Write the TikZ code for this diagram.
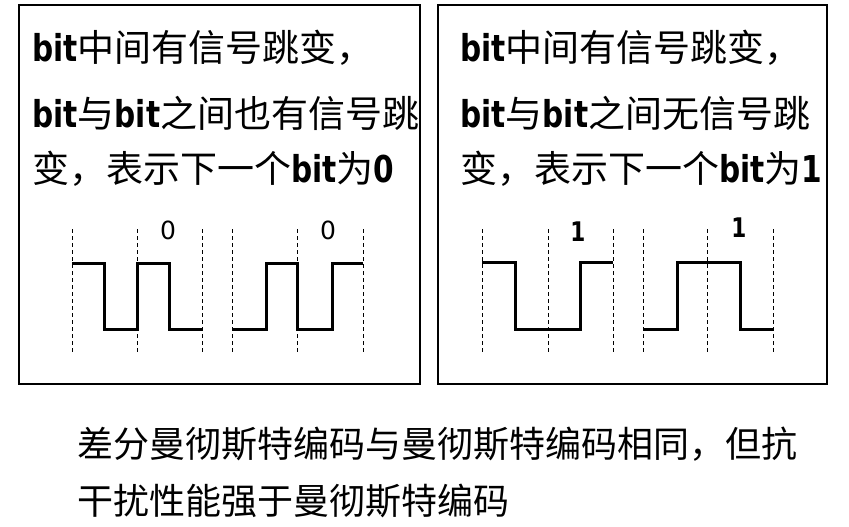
\documentclass[tikz,border=0pt]{standalone}
\usepackage{fontspec}
\newfontfamily\cjk{Noto Sans CJK SC}
\newfontfamily\latb{DejaVu Sans}[FakeStretch=0.8]
\newfontfamily\dig{DejaVu Sans}
\newcommand\bt[1]{{\latb\bfseries #1}}
\begin{document}
\begin{tikzpicture}[x=1pt,y=-1pt,
  panel/.style={draw, line width=1.1pt},
  wave/.style={line width=3pt, line join=miter},
  grid/.style={line width=0.8pt, dash pattern=on 4pt off 3pt},
  txt/.style={anchor=base west, inner sep=0pt, font=\cjk\fontsize{37}{40}\selectfont},
  bottxt/.style={anchor=base west, inner sep=0pt, font=\cjk\fontsize{36}{40}\selectfont},
  bitlbl/.style={inner sep=0pt, font=\dig\fontsize{25}{28}\selectfont},
  onelbl/.style={inner sep=0pt, font=\latb\bfseries\fontsize{27}{29}\selectfont}]
\useasboundingbox (0,0) rectangle (849,527);
% panels
\draw[panel] (19,5) rectangle (420,384);
\draw[panel] (438,5) rectangle (827,384);
% left panel text
\node[txt] (l1) at (32,62) {\bt{bit}中间有信号跳变，};
\node[txt] (l2) at (32,127) {\bt{bit}与\bt{bit}之间也有信号跳};
\node[txt] (l3) at (32,182) {变，表示下一个\bt{bit}为\bt{0}};
% right panel text
\node[txt] (r1) at (460,62) {\bt{bit}中间有信号跳变，};
\node[txt] (r2) at (460,127) {\bt{bit}与\bt{bit}之间无信号跳};
\node[txt] (r3) at (460,182) {变，表示下一个\bt{bit}为\bt{1}};
% dashed bit boundaries
\foreach \x in {72,137,202,232,297,363,482,548,613,643,707,773}
  \draw[grid] (\x,229) -- (\x,353);
% waveforms
\draw[wave] (72,263) -- (104,263) -- (104,329) -- (137,329) -- (137,263) -- (169,263) -- (169,329) -- (202,329);
\draw[wave] (232,329) -- (266,329) -- (266,263) -- (297,263) -- (297,329) -- (332,329) -- (332,263) -- (363,263);
\draw[wave] (482,262) -- (515,262) -- (515,329) -- (580,329) -- (580,262) -- (613,262);
\draw[wave] (643,329) -- (677,329) -- (677,262) -- (740,262) -- (740,329) -- (773,329);
% bit labels
\node[bitlbl] (z1) at (168,230) {0};
\node[bitlbl] (z2) at (328,230) {0};
\node[onelbl] (o1) at (578,232) {1};
\node[onelbl] (o2) at (739,228) {1};
% bottom text
\node[bottxt] (b1) at (77,457) {差分曼彻斯特编码与曼彻斯特编码相同，但抗};
\node[bottxt] (b2) at (77,514) {干扰性能强于曼彻斯特编码};
\end{tikzpicture}
\end{document}
